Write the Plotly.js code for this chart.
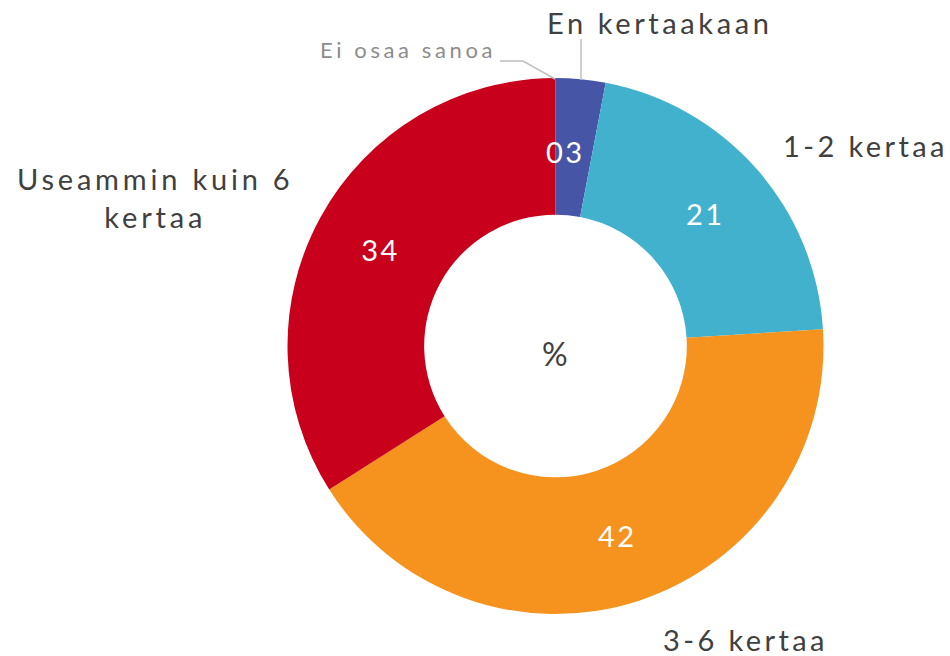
<!DOCTYPE html>
<html><head><meta charset="utf-8">
<script src="https://cdn.plot.ly/plotly-3.0.1.min.js"></script>
<style>html,body{margin:0;padding:0;background:#fff}#chart{width:950px;height:656px}</style>
</head><body><div id="chart"></div>
<script>
const categories = ["En kertaakaan", "1-2 kertaa", "3-6 kertaa", "Useammin kuin 6 kertaa", "Ei osaa sanoa"];
const values = [3, 21, 42, 34, 0];
const colors = ["#4655a5", "#41b1cd", "#f6921e", "#c8001b", "#a6a6a6"];
const valueLabels = values.map(v => v > 0 ? String(v).padStart(2, "0") : "");

const W = 950, H = 656;
const px = x => x / W, py = y => 1 - y / H;
const FONT = "Lato, 'Open Sans', sans-serif";
const dark = "#404040";
const sp = (t, s) => `<span style="letter-spacing:${s}px">${t}</span>`;

// pie geometry (pixels)
const cx = 555.5, cy = 346, R = 268, HOLE = 0.49;
const total = values.reduce((a, b) => a + b, 0);

// the narrow first slice gets its value label drawn free-standing (as in the reference)
const textPos = values.map((v, i) => i === 0 ? "none" : "inside");

const trace = {
  type: "pie",
  labels: categories,
  values: values,
  sort: false,
  direction: "clockwise",
  rotation: 0,
  hole: HOLE,
  marker: {colors: colors, line: {width: 0}},
  text: valueLabels.map(t => sp(t, 2.5)),
  textinfo: "text",
  textposition: textPos,
  insidetextorientation: "horizontal",
  insidetextfont: {family: FONT, size: 29, color: "#ffffff"},
  domain: {x: [(cx - R) / W, (cx + R) / W], y: [1 - (cy + R) / H, 1 - (cy - R) / H]},
  showlegend: false,
  hoverinfo: "label+value"
};

const ann = (text, x, y, size, color, xanchor, s) => ({
  text: text.split("<br>").map(t => sp(t, s)).join("<br>"),
  x: px(x), y: py(y), xref: "paper", yref: "paper", showarrow: false,
  xanchor: xanchor || "center", yanchor: "middle",
  font: {family: FONT, size, color}
});

// value label for slice 0, at its mid-angle, mid-ring radius
const midAng = (values[0] / 2) / total * 2 * Math.PI * 0.55;
const midR = R * (1 + HOLE) / 2 * 0.98;
const lbl0 = ann(valueLabels[0], cx + midR * Math.sin(midAng), cy - midR * Math.cos(midAng) + 1, 29, "#ffffff", "center", 2.5);

const layout = {
  width: W, height: H,
  margin: {l: 0, r: 0, t: 0, b: 0},
  paper_bgcolor: "#ffffff",
  annotations: [
    lbl0,
    ann(categories[0], 659, 22, 29, dark, "center", 3.6),
    ann(categories[1], 781, 146, 29, dark, "left", 3.4),
    ann(categories[2], 745, 639, 29, dark, "center", 3.4),
    ann("Useammin kuin 6<br>kertaa", 155, 198, 29, dark, "center", 3.8),
    ann(categories[4], 498, 50, 22, "#8c8c8c", "right", 3.6),
    ann("%", 555, 353, 32, dark, "center", 0)
  ],
  shapes: [
    {type: "path", xref: "paper", yref: "paper",
     path: `M ${px(500)} ${py(61)} L ${px(523)} ${py(61)} L ${px(555)} ${py(79)}`,
     line: {color: "#bfbfbf", width: 1.5}},
    {type: "line", xref: "paper", yref: "paper",
     x0: px(581), y0: py(39), x1: px(581), y1: py(80),
     line: {color: "#bfbfbf", width: 1.5}}
  ]
};

Plotly.newPlot("chart", [trace], layout, {displayModeBar: false, staticPlot: true});
</script></body></html>
